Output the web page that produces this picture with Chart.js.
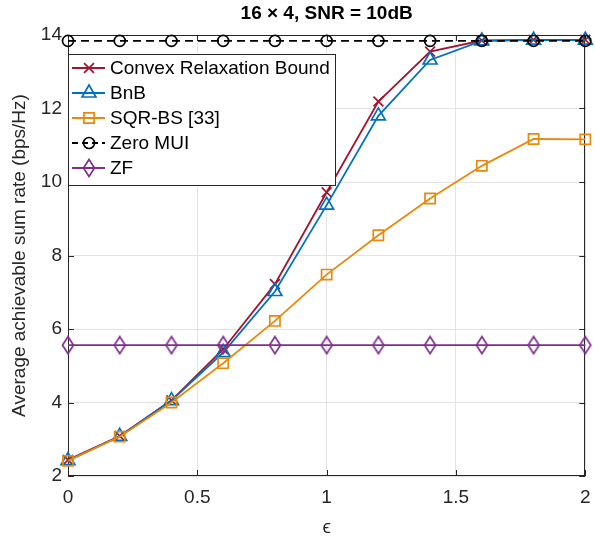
<!DOCTYPE html>
<html lang="en">
<head>
<meta charset="UTF-8">
<title>Average achievable sum rate vs epsilon</title>
<style>
  html, body { margin: 0; padding: 0; background: #ffffff; }
  #wrap { width: 595px; height: 537px; }
</style>
</head>
<body>
<div id="wrap"><canvas id="chart" width="595" height="537"></canvas></div>
<script src="https://cdn.jsdelivr.net/npm/chart.js"></script>
<script>
// values
var eps = [0, 0.2, 0.4, 0.6, 0.8, 1.0, 1.2, 1.4, 1.6, 1.8, 2.0];
var convexBound = [2.44, 3.09, 4.06, 5.45, 7.22, 9.72, 12.19, 13.55, 13.85, 13.87, 13.87];
var bnb = [2.42, 3.08, 4.05, 5.36, 7.02, 9.37, 11.80, 13.32, 13.84, 13.86, 13.86];
var sqrBs = [2.41, 3.07, 4.00, 5.07, 6.22, 7.48, 8.55, 9.55, 10.44, 11.17, 11.16];
var zeroMui = [13.84, 13.84, 13.84, 13.84, 13.84, 13.84, 13.84, 13.84, 13.84, 13.84, 13.84];
var zf = [5.56, 5.56, 5.56, 5.56, 5.56, 5.56, 5.56, 5.56, 5.56, 5.56, 5.56];
var xTicks = [0, 0.5, 1, 1.5, 2];
var xTickLabels = ['0', '0.5', '1', '1.5', '2'];
var yTicks = [2, 4, 6, 8, 10, 12, 14];

var FONT = "'Liberation Sans', Arial, sans-serif";
var TXT = '#262626';

function pts(ys) {
    return eps.map(function (x, i) { return { x: x, y: ys[i] }; });
}

// MATLAB-like diamond (taller than wide)
function diamond(color) {
    var c = document.createElement('canvas');
    c.width = 14; c.height = 20;
    var g = c.getContext('2d');
    g.strokeStyle = color;
    g.lineWidth = 1.7;
    g.beginPath();
    g.moveTo(7, 1.5); g.lineTo(12.5, 10); g.lineTo(7, 18.5); g.lineTo(1.5, 10);
    g.closePath();
    g.stroke();
    return c;
}

var series = [
    { label: 'Convex Relaxation Bound', data: convexBound, color: '#A2142F', style: 'crossRot', r: 7, dash: [], order: 5 },
    { label: 'BnB', data: bnb, color: '#0072BD', style: 'triangle', r: 8, dash: [], order: 4 },
    { label: 'SQR-BS [33]', data: sqrBs, color: '#E8890C', style: 'rect', r: 7.2, dash: [], order: 3 },
    { label: 'Zero MUI', data: zeroMui, color: '#000000', style: 'circle', r: 5.5, dash: [8, 5], order: 2 },
    { label: 'ZF', data: zf, color: '#7E2F8E', style: diamond('#7E2F8E'), r: 7, dash: [], order: 1 }
];

var datasets = series.map(function (s) {
    return {
        label: s.label,
        data: pts(s.data),
        borderColor: s.color,
        borderWidth: 1.8,
        borderDash: s.dash,
        pointStyle: s.style,
        pointRadius: s.r,
        pointBorderColor: s.color,
        pointBackgroundColor: 'rgba(0,0,0,0)',
        pointBorderWidth: 1.7,
        tension: 0,
        fill: false,
        clip: false,
        order: s.order
    };
});

// axes box + inward ticks, drawn under the data like MATLAB
var boxPlugin = {
    id: 'boxPlugin',
    beforeDatasetsDraw: function (chart) {
        var ctx = chart.ctx, a = chart.chartArea;
        var xs = chart.scales.x, ys = chart.scales.y;
        ctx.save();
        ctx.strokeStyle = TXT;
        ctx.lineWidth = 1;
        ctx.strokeRect(Math.round(a.left) + 0.5, Math.round(a.top) + 0.5,
            Math.round(a.right - a.left) - 1, Math.round(a.bottom - a.top) - 1);
        ctx.beginPath();
        xTicks.forEach(function (v) {
            var px = Math.round(xs.getPixelForValue(v)) + 0.5;
            ctx.moveTo(px, a.bottom); ctx.lineTo(px, a.bottom - 6);
            ctx.moveTo(px, a.top); ctx.lineTo(px, a.top + 6);
        });
        yTicks.forEach(function (v) {
            var py = Math.round(ys.getPixelForValue(v)) + 0.5;
            ctx.moveTo(a.left, py); ctx.lineTo(a.left + 6, py);
            ctx.moveTo(a.right, py); ctx.lineTo(a.right - 6, py);
        });
        ctx.stroke();
        ctx.restore();
    },
    afterDraw: function (chart) {
        var ctx = chart.ctx, a = chart.chartArea;
        ctx.save();
        ctx.fillStyle = '#000';
        ctx.font = 'bold 19px ' + FONT;
        ctx.textAlign = 'center';
        ctx.textBaseline = 'middle';
        ctx.fillText('16 \u00d7 4, SNR = 10dB', (a.left + a.right) / 2, 14);
        ctx.restore();
    }
};

// legend box in the upper left corner
var legendPlugin = {
    id: 'legendPlugin',
    afterDraw: function (chart) {
        var ctx = chart.ctx, a = chart.chartArea;
        var left = a.left, top = 54, w = 267, h = 131;
        ctx.save();
        ctx.fillStyle = '#fff';
        ctx.fillRect(left, top, w, h);
        ctx.strokeStyle = TXT;
        ctx.lineWidth = 1;
        ctx.strokeRect(left + 0.5, top + 0.5, w, h);
        ctx.font = '19px ' + FONT;
        ctx.textBaseline = 'middle';
        series.forEach(function (s, i) {
            var y = top + 14 + i * 25;
            ctx.strokeStyle = s.color;
            ctx.lineWidth = 1.8;
            ctx.setLineDash(s.dash.length ? [6, 4] : []);
            ctx.beginPath();
            ctx.moveTo(left + 4, y); ctx.lineTo(left + 37, y);
            ctx.stroke();
            ctx.setLineDash([]);
            ctx.lineWidth = 1.7;
            ctx.fillStyle = 'rgba(0,0,0,0)';
            if (typeof s.style === 'string') {
                Chart.helpers.drawPoint(ctx, { pointStyle: s.style, radius: s.r, rotation: 0, borderWidth: 1.7 }, left + 21, y);
            } else {
                ctx.drawImage(s.style, left + 21 - s.style.width / 2, y - s.style.height / 2);
            }
            ctx.fillStyle = '#000';
            ctx.fillText(s.label, left + 42, y + 1);
        });
        ctx.restore();
    }
};

new Chart(document.getElementById('chart').getContext('2d'), {
    type: 'line',
    data: { datasets: datasets },
    options: {
        responsive: false,
        animation: false,
        devicePixelRatio: 1,
        layout: { padding: { left: 0, right: 6, top: 35, bottom: 0 } },
        plugins: {
            legend: { display: false },
            title: { display: false },
            tooltip: { enabled: false }
        },
        scales: {
            x: {
                type: 'linear',
                min: 0, max: 2,
                afterBuildTicks: function (s) { s.ticks = xTicks.map(function (v) { return { value: v }; }); },
                afterFit: function (s) { s.height = 61; s.paddingLeft = 0; s.paddingRight = 0; },
                grid: { color: '#e3e3e3', drawTicks: false },
                border: { display: false },
                ticks: {
                    color: TXT, font: { family: FONT, size: 19 }, padding: 10, maxRotation: 0,
                    callback: function (v, i) { return xTickLabels[i]; }
                },
                title: { display: true, text: '\u03f5', color: TXT, font: { family: FONT, size: 19, lineHeight: 1.0 }, padding: 0 }
            },
            y: {
                min: 2, max: 14,
                afterBuildTicks: function (s) { s.ticks = yTicks.map(function (v) { return { value: v }; }); },
                afterFit: function (s) { s.width = 68; s.paddingTop = 0; s.paddingBottom = 0; },
                grid: { color: '#e3e3e3', drawTicks: false },
                border: { display: false },
                ticks: { color: TXT, font: { family: FONT, size: 19 }, padding: 6 },
                title: { display: true, text: 'Average achievable sum rate (bps/Hz)', color: TXT, font: { family: FONT, size: 19 }, padding: { top: 8, bottom: 0 } }
            }
        }
    },
    plugins: [boxPlugin, legendPlugin]
});
</script>
</body>
</html>
